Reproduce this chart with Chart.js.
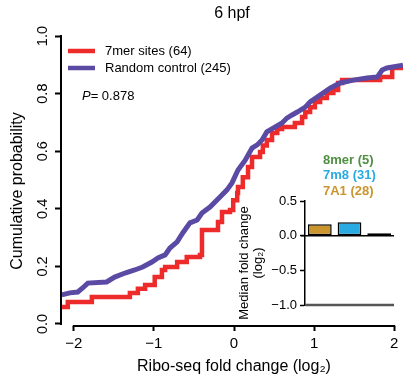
<!DOCTYPE html>
<html>
<head>
<meta charset="utf-8">
<script src="https://cdn.jsdelivr.net/npm/chart.js@4.4.1/dist/chart.umd.min.js"></script>
<style>
  html, body { margin: 0; padding: 0; background: #fff; }
  #wrap { position: relative; width: 403px; height: 377px; }
  #main { position: absolute; left: 0; top: 0; }
  #inset { position: absolute; left: 230px; top: 140px; }
</style>
</head>
<body>
<div id="wrap">
  <canvas id="main" width="403" height="377"></canvas>
  <canvas id="inset" width="173" height="200"></canvas>
</div>
<script>
// cumulative curves (x = log2 fold change, y = cumulative fraction)
const redX = [-2.16, -2.075, -1.775, -1.30, -1.20, -1.11, -0.99, -0.90, -0.86, -0.71, -0.59, -0.425, -0.40, -0.20, -0.15, -0.05, -0.01, 0.04, 0.05, 0.11, 0.175, 0.225, 0.325, 0.36, 0.41, 0.475, 0.54, 0.60, 0.76, 0.85, 0.89, 0.95, 1.01, 1.075, 1.16, 1.24, 1.30, 1.35, 1.825, 1.975, 2.11];
const redY = [0.059, 0.076, 0.094, 0.108, 0.122, 0.135, 0.163, 0.1875, 0.198, 0.215, 0.233, 0.24, 0.326, 0.354, 0.389, 0.396, 0.43, 0.455, 0.476, 0.51, 0.545, 0.58, 0.597, 0.62, 0.639, 0.663, 0.677, 0.684, 0.698, 0.719, 0.736, 0.753, 0.771, 0.785, 0.802, 0.8125, 0.837, 0.847, 0.858, 0.889, 0.889];

const purpleX = [-2.15, -2.05, -1.95, -1.89, -1.825, -1.59, -1.49, -1.36, -1.24, -1.14, -1.025, -0.95, -0.86, -0.80, -0.71, -0.64, -0.55, -0.46, -0.40, -0.30, -0.175, -0.09, -0.025, 0.05, 0.14, 0.225, 0.29, 0.35, 0.41, 0.51, 0.60, 0.66, 0.725, 0.79, 0.89, 0.95, 1.075, 1.20, 1.325, 1.49, 1.66, 1.79, 1.85, 1.91, 2.11];
const purpleY = [0.101, 0.108, 0.111, 0.125, 0.142, 0.146, 0.163, 0.177, 0.1875, 0.198, 0.215, 0.229, 0.24, 0.264, 0.285, 0.316, 0.351, 0.361, 0.385, 0.406, 0.441, 0.465, 0.49, 0.535, 0.569, 0.611, 0.622, 0.639, 0.667, 0.684, 0.698, 0.715, 0.726, 0.736, 0.753, 0.771, 0.795, 0.819, 0.837, 0.847, 0.854, 0.858, 0.882, 0.889, 0.899];

const xTicks = [-2, -1, 0, 1, 2];
const yTicks = [0, 0.2, 0.4, 0.6, 0.8, 1.0];

// inset: median fold change per site type
const barNames = ['7A1 (28)', '7m8 (31)', '8mer (5)'];
const barValues = [0.165, 0.193, 0.035];
const barTicks = [0.5, 0, -0.5, -1.0];

const FONT = '"Liberation Sans", Arial, Helvetica, sans-serif';
const RED = '#ee2b2b';
const PURPLE = '#5b4aa3';
const barColors = ['#c9952c', '#2aaae2', '#3d7f3a'];
const textColors = ['#c9952c', '#2aaae2', '#4f8f42'];

function minus(v, digits) {
    let s = digits == null ? String(Math.abs(v)) : Math.abs(v).toFixed(digits);
    return v < 0 ? '\u2212' + s : s;
}

const mainDecor = {
    id: 'mainDecor',
    afterDraw(chart) {
        const ctx = chart.ctx, a = chart.chartArea;
        const x = chart.scales.x, y = chart.scales.y;
        ctx.save();
        ctx.strokeStyle = '#000';
        ctx.lineWidth = 2;
        ctx.beginPath();
        ctx.moveTo(a.left, y.getPixelForValue(yTicks[0]) + 1);
        ctx.lineTo(a.left, y.getPixelForValue(yTicks[yTicks.length - 1]) - 1);
        ctx.moveTo(x.getPixelForValue(xTicks[0]) - 1, a.bottom);
        ctx.lineTo(x.getPixelForValue(xTicks[xTicks.length - 1]) + 1, a.bottom);
        ctx.stroke();

        ctx.fillStyle = '#000';
        ctx.textBaseline = 'middle';
        ctx.textAlign = 'center';
        // y tick labels, rotated like R
        ctx.font = '14.5px ' + FONT;
        y.ticks.forEach(t => {
            ctx.save();
            ctx.translate(43, y.getPixelForValue(t.value));
            ctx.rotate(-Math.PI / 2);
            ctx.fillText(t.value.toFixed(1), 0, 0);
            ctx.restore();
        });
        ctx.font = '16px ' + FONT;
        ctx.save();
        ctx.translate(18, 191);
        ctx.rotate(-Math.PI / 2);
        ctx.fillText('Cumulative probability', 0, 0);
        ctx.restore();
        ctx.fillText('Ribo-seq fold change (log\u2082)', 234, 367);
        ctx.fillText('6 hpf', 232, 14);

        // legend
        ctx.lineWidth = 4.5;
        ctx.strokeStyle = RED;
        ctx.beginPath(); ctx.moveTo(68, 51); ctx.lineTo(95, 51); ctx.stroke();
        ctx.strokeStyle = PURPLE;
        ctx.beginPath(); ctx.moveTo(68, 68); ctx.lineTo(95, 68); ctx.stroke();
        ctx.textAlign = 'left';
        ctx.font = '13px ' + FONT;
        ctx.fillText('7mer sites (64)', 105, 51);
        ctx.fillText('Random control (245)', 105, 68);
        ctx.font = 'italic 13px ' + FONT;
        ctx.fillText('P', 82, 96);
        let w = ctx.measureText('P').width;
        ctx.font = '13px ' + FONT;
        ctx.fillText('= 0.878', 82 + w, 96);
        ctx.restore();
    }
};

new Chart(document.getElementById('main'), {
    type: 'line',
    data: {
        datasets: [
            {
                label: 'Random control (245)',
                data: purpleX.map((v, i) => ({ x: v, y: purpleY[i] })),
                borderColor: PURPLE,
                borderWidth: 5,
                stepped: false,
                tension: 0,
                pointRadius: 0,
                fill: false
            },
            {
                label: '7mer sites (64)',
                data: redX.map((v, i) => ({ x: v, y: redY[i] })),
                borderColor: RED,
                borderWidth: 4.5,
                stepped: true,
                pointRadius: 0,
                fill: false
            }
        ]
    },
    options: {
        responsive: false,
        animation: false,
        layout: { padding: { top: 30, left: 0, right: 0, bottom: 0 } },
        plugins: { legend: { display: false }, tooltip: { enabled: false } },
        scales: {
            x: {
                type: 'linear',
                min: -2.16,
                max: 2.11,
                afterBuildTicks: s => { s.ticks = xTicks.map(v => ({ value: v })); },
                afterFit: s => { s.height = 51; },
                grid: { drawOnChartArea: false, drawTicks: true, tickLength: 5, tickWidth: 2, tickColor: '#000' },
                border: { display: false },
                ticks: {
                    color: '#000', font: { family: FONT, size: 15 }, padding: 4,
                    maxRotation: 0, autoSkip: false,
                    callback: v => minus(v)
                }
            },
            y: {
                type: 'linear',
                min: -0.007,
                max: 1.021,
                afterBuildTicks: s => { s.ticks = yTicks.map(v => ({ value: v })); },
                afterFit: s => { s.width = 61; },
                grid: { drawOnChartArea: false, drawTicks: true, tickLength: 6, tickWidth: 2, tickColor: '#000' },
                border: { display: false },
                ticks: { display: false }
            }
        }
    },
    plugins: [mainDecor]
});

const insetDecor = {
    id: 'insetDecor',
    afterDraw(chart) {
        const ctx = chart.ctx, a = chart.chartArea;
        const y = chart.scales.y;
        ctx.save();
        ctx.strokeStyle = '#000';
        ctx.lineWidth = 1.5;
        ctx.beginPath();
        ctx.moveTo(a.left - 4, y.getPixelForValue(0));
        ctx.lineTo(a.right, y.getPixelForValue(0));
        ctx.stroke();
        ctx.strokeStyle = '#555';
        ctx.lineWidth = 2.5;
        ctx.beginPath();
        ctx.moveTo(a.left, y.getPixelForValue(-1));
        ctx.lineTo(a.right, y.getPixelForValue(-1));
        ctx.stroke();

        ctx.textBaseline = 'middle';
        ctx.textAlign = 'left';
        ctx.font = 'bold 13px ' + FONT;
        for (let i = 0; i < barNames.length; i++) {
            ctx.fillStyle = textColors[i];
            ctx.fillText(barNames[i], 93, 51 - i * 15.5);
        }
        ctx.fillStyle = '#000';
        ctx.textAlign = 'center';
        ctx.font = '13px ' + FONT;
        ctx.save();
        ctx.translate(14, 123);
        ctx.rotate(-Math.PI / 2);
        ctx.fillText('Median fold change', 0, 0);
        ctx.fillText('(log\u2082)', 0, 14);
        ctx.restore();
        ctx.restore();
    }
};

new Chart(document.getElementById('inset'), {
    type: 'bar',
    data: {
        labels: barNames,
        datasets: [{
            data: barValues,
            backgroundColor: barColors,
            borderColor: '#000',
            borderWidth: 1.5,
            borderSkipped: false,
            barPercentage: 0.8,
            categoryPercentage: 1.0
        }]
    },
    options: {
        responsive: false,
        animation: false,
        layout: { padding: { top: 61, right: 9, bottom: 35, left: 0 } },
        plugins: { legend: { display: false }, tooltip: { enabled: false } },
        scales: {
            x: { display: false },
            y: {
                min: -1,
                max: 0.5,
                afterBuildTicks: s => { s.ticks = barTicks.map(v => ({ value: v })); },
                afterFit: s => { s.width = 75; },
                grid: { drawOnChartArea: false, drawTicks: true, tickLength: 5, tickWidth: 1.5, tickColor: '#000' },
                border: { display: true, color: '#000', width: 1.5 },
                ticks: {
                    color: '#000', font: { family: FONT, size: 13 }, padding: 3,
                    callback: v => minus(v, 1)
                }
            }
        }
    },
    plugins: [insetDecor]
});
</script>
</body>
</html>
